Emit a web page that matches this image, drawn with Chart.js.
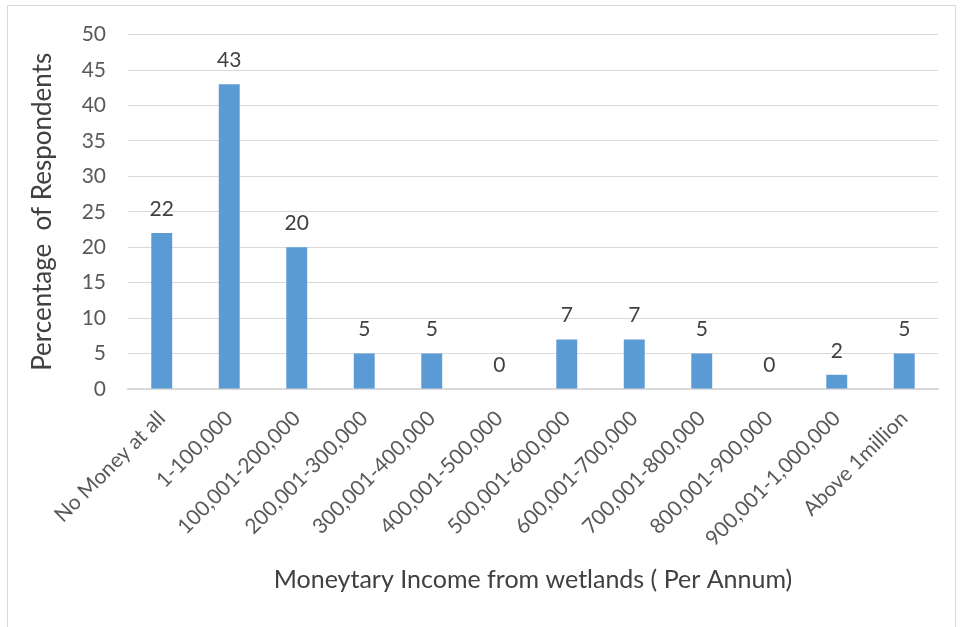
<!DOCTYPE html>
<html>
<head>
<meta charset="utf-8">
<script src="https://cdn.jsdelivr.net/npm/chart.js@4"></script>
<style>
  html, body { margin: 0; padding: 0; background: #fff; }
  #wrap { position: relative; width: 962px; height: 627px; }
  #frame { position: absolute; left: 7px; top: 5px; width: 949px; height: 630px; border: 1px solid #d9d9d9; box-sizing: border-box; }
  canvas { position: absolute; left: 0; top: 0; }
</style>
</head>
<body>
<div id="wrap">
  <div id="frame"></div>
  <canvas id="c" width="962" height="627"></canvas>
</div>
<script>
const categories = ["No Money at all", "1-100,000", "100,001-200,000", "200,001-300,000", "300,001-400,000", "400,001-500,000", "500,001-600,000", "600,001-700,000", "700,001-800,000", "800,001-900,000", "900,001-1,000,000", "Above 1million"];
const percentages = [22, 43, 20, 5, 5, 0, 7, 7, 5, 0, 2, 5];
const yAxisTitle = "Percentage  of Respondents";
const xAxisTitle = "Moneytary Income from wetlands ( Per Annum)";

const FONT = "Lato, 'Open Sans', 'Liberation Sans', sans-serif";

const dataLabels = {
  id: 'dataLabels',
  afterDatasetsDraw(chart) {
    const ctx = chart.ctx;
    const meta = chart.getDatasetMeta(0);
    ctx.save();
    ctx.font = "21px " + FONT;
    ctx.fillStyle = "#404040";
    ctx.textAlign = "center";
    ctx.textBaseline = "middle";
    meta.data.forEach((bar, i) => {
      ctx.fillText(String(percentages[i]), bar.x, bar.y - 24);
    });
    ctx.restore();
  }
};

new Chart(document.getElementById('c'), {
  type: 'bar',
  data: {
    labels: categories,
    datasets: [{
      data: percentages,
      backgroundColor: '#5b9bd5',
      borderWidth: 0,
      barPercentage: 0.31,
      categoryPercentage: 1.0
    }]
  },
  options: {
    responsive: false,
    animation: false,
    events: [],
    layout: { padding: { left: 0, right: 24, top: 34, bottom: 30 } },
    plugins: { legend: { display: false }, tooltip: { enabled: false } },
    scales: {
      x: {
        grid: { display: false, drawTicks: false },
        border: { display: true, color: '#d9d9d9', width: 2 },
        ticks: {
          font: { size: 21, family: FONT },
          color: '#595959',
          minRotation: 45,
          maxRotation: 45,
          autoSkip: false,
          padding: 17
        },
        title: {
          display: true,
          text: xAxisTitle,
          font: { size: 25, family: FONT },
          color: '#404040',
          padding: { top: 0, bottom: 2 }
        },
        afterFit(scale) { scale.height = 627 - 30 - 389; }
      },
      y: {
        min: 0,
        max: 50,
        grid: { color: '#d9d9d9', lineWidth: 1, drawTicks: false },
        border: { display: false },
        ticks: {
          stepSize: 5,
          font: { size: 21, family: FONT },
          color: '#595959',
          padding: 22
        },
        title: {
          display: true,
          text: yAxisTitle,
          font: { size: 26, family: FONT },
          color: '#404040',
          padding: { top: 27, bottom: 0 }
        },
        afterFit(scale) { scale.width = 128; }
      }
    }
  },
  plugins: [dataLabels]
});
</script>
</body>
</html>
